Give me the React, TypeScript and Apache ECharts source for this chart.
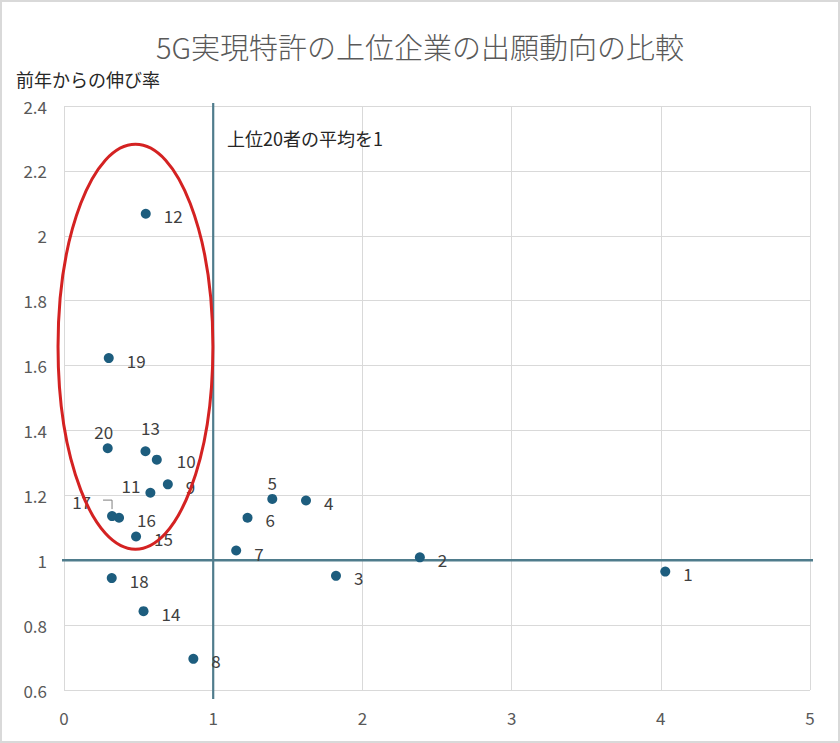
import React, { useEffect, useRef } from 'react';
import * as echarts from 'echarts';

// 企業番号（順位）
const ids = [
  '1', '2', '3', '4', '5', '6', '7', '8', '9', '10',
  '11', '12', '13', '14', '15', '16', '17', '18', '19', '20',
];
// 出願件数（上位20者の平均を1とした値）
const xValues = [
  4.03, 2.385, 1.823, 1.622, 1.396, 1.23, 1.154, 0.867, 0.696, 0.622,
  0.579, 0.548, 0.546, 0.533, 0.483, 0.369, 0.322, 0.32, 0.30, 0.293,
];
// 前年からの伸び率
const yValues = [
  0.965, 1.009, 0.952, 1.184, 1.189, 1.131, 1.03, 0.696, 1.234, 1.31,
  1.208, 2.068, 1.336, 0.843, 1.073, 1.131, 1.136, 0.945, 1.623, 1.345,
];
const xTicks = { min: 0, max: 5, interval: 1 };
const yTicks = { min: 0.6, max: 2.4, interval: 0.2 };

const TITLE = '5G実現特許の上位企業の出願動向の比較';
const Y_NAME = '前年からの伸び率';
const NOTE = '上位20者の平均を1';

// 平均（基準線）
const avgX = 1;
const avgY = 1;

// 囲み楕円（データ座標）
const ringCenter = [0.479, 1.658];
const ringRadius = [0.519, 0.624];

const FONT = '"Noto Sans CJK JP", "Noto Sans", sans-serif';
const DOT = '#1d5d7e';
const REF_LINE = '#4f7c8c';

// ラベル位置の個別調整
const labelTweaks: Record<string, any> = {
  '5': { position: 'top', distance: 3, offset: [0, 0] },
  '13': { position: 'top', distance: 10, offset: [5, 0] },
  '20': { position: 'top', distance: 3, offset: [-4, 0] },
  '10': { distance: 15, offset: [0, 1] },
  '11': { position: 'left', distance: 5, offset: [0, -7] },
  '17': { position: 'left', distance: 16, offset: [0, -15] },
  '7': { offset: [0, 3] },
};

export default function App() {
  const ref = useRef<HTMLDivElement>(null);

  useEffect(() => {
    document.body.style.margin = '0';
    if (!ref.current) return;
    const chart = echarts.init(ref.current, null, { renderer: 'svg' });

    const data = ids.map((id, i) => {
      const t = labelTweaks[id] || {};
      return {
        name: id,
        value: [xValues[i], yValues[i]],
        label: {
          position: t.position || 'right',
          distance: t.distance ?? 13,
          offset: t.offset || [0, 2],
        },
      };
    });

    chart.setOption({
      animation: false,
      backgroundColor: '#fff',
      textStyle: { fontFamily: FONT },
      title: {
        text: TITLE,
        left: 'center',
        top: 24,
        textStyle: { fontSize: 29, fontWeight: 300, color: '#595959', fontFamily: FONT },
      },
      grid: { left: 62, right: 28, top: 104, bottom: 51 },
      xAxis: {
        type: 'value',
        ...xTicks,
        axisLine: { show: false },
        axisTick: { show: false },
        axisLabel: { color: '#595959', fontSize: 17, margin: 19 },
        splitLine: { lineStyle: { color: '#d9d9d9', width: 1 } },
      },
      yAxis: {
        type: 'value',
        ...yTicks,
        name: Y_NAME,
        nameLocation: 'end',
        nameGap: 18,
        nameTextStyle: { color: '#262626', fontSize: 18, align: 'left', padding: [0, 0, 0, -48] },
        axisLine: { show: false },
        axisTick: { show: false },
        axisLabel: { color: '#595959', fontSize: 17, margin: 17 },
        splitLine: { lineStyle: { color: '#d9d9d9', width: 1 } },
      },
      series: [
        {
          type: 'scatter',
          symbolSize: 10,
          itemStyle: { color: DOT, opacity: 1 },
          z: 5,
          label: {
            show: true,
            formatter: '{b}',
            color: '#404040',
            fontSize: 17,
            fontFamily: FONT,
          },
          data,
        },
      ],
    });

    const px = (x: number, y: number) => chart.convertToPixel({ gridIndex: 0 }, [x, y]) as number[];
    const c = px(ringCenter[0], ringCenter[1]);
    const e = px(ringCenter[0] + ringRadius[0], ringCenter[1] + ringRadius[1]);
    const note = px(1.1, 2.3);
    const i17 = ids.indexOf('17');
    const p17 = px(xValues[i17], yValues[i17]);
    const vTop = px(avgX, yTicks.max);
    const vBot = px(avgX, yTicks.min);
    const hL = px(xTicks.min, avgY);
    const hR = px(xTicks.max, avgY);

    chart.setOption({
      graphic: [
        {
          type: 'line',
          silent: true,
          z: 1,
          shape: { x1: vTop[0], y1: vTop[1] - 3, x2: vBot[0], y2: vBot[1] + 9 },
          style: { stroke: REF_LINE, lineWidth: 2.2 },
        },
        {
          type: 'line',
          silent: true,
          z: 1,
          shape: { x1: hL[0] - 2, y1: hL[1], x2: hR[0] + 3, y2: hR[1] },
          style: { stroke: REF_LINE, lineWidth: 2.6 },
        },
        {
          type: 'ellipse',
          silent: true,
          shape: { cx: c[0], cy: c[1], rx: Math.abs(e[0] - c[0]), ry: Math.abs(c[1] - e[1]) },
          style: { fill: 'none', stroke: '#d42222', lineWidth: 3 },
          z: 10,
        },
        {
          type: 'text',
          x: note[0] - 1,
          y: note[1],
          style: {
            text: NOTE,
            fill: '#262626',
            font: `18px ${FONT}`,
            textVerticalAlign: 'middle',
          },
        },
        {
          type: 'polyline',
          silent: true,
          shape: { points: [[p17[0] - 9, p17[1] - 16], [p17[0], p17[1] - 16], [p17[0], p17[1] - 7]] },
          style: { stroke: '#7f7f7f', lineWidth: 1, fill: 'none' },
        },
      ],
    });

    return () => chart.dispose();
  }, []);

  return (
    <div
      ref={ref}
      style={{ width: 840, height: 743, boxSizing: 'border-box', border: '2px solid #d9d9d9' }}
    />
  );
}
